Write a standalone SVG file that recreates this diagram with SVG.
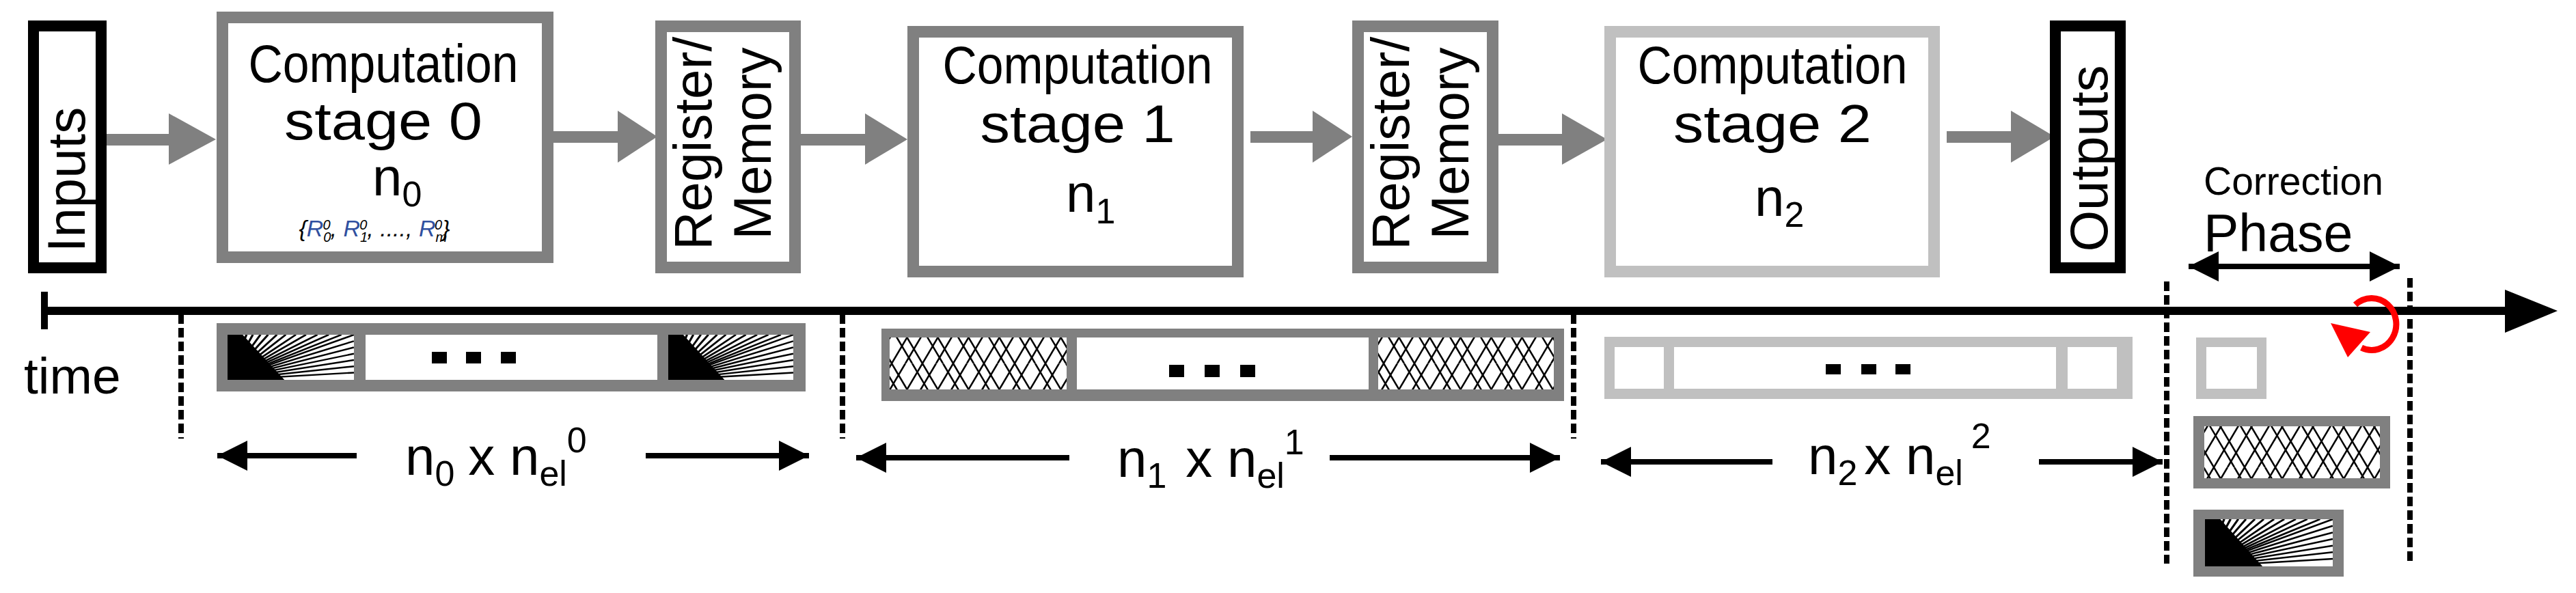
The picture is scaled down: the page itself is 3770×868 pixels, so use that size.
<svg xmlns="http://www.w3.org/2000/svg" width="3770" height="868" viewBox="0 0 3770 868">
<style>
text{font-family:"Liberation Sans",Arial,sans-serif;fill:#000}
.big{font-size:78px}
.rot{font-size:78px}
.sub{font-size:52px}
.gbox{fill:#fff;stroke:#808080;stroke-width:17}
.lbox{fill:#fff;stroke:#c0c0c0;stroke-width:17}
.kbox{fill:#fff;stroke:#000;stroke-width:16}
.garrow{fill:#808080}
.dash{stroke:#000;stroke-width:8;stroke-dasharray:14 6}
.dim{stroke:#000;stroke-width:8;fill:none}
</style>
<defs>
<symbol id="fan" viewBox="0 0 100 50" preserveAspectRatio="none">
<rect width="100" height="50" fill="#fff"/>
<g stroke="#000" stroke-width="1.8">
<line x1="0" y1="50" x2="0" y2="0"/><line x1="0" y1="50" x2="5" y2="0"/><line x1="0" y1="50" x2="10" y2="0"/><line x1="0" y1="50" x2="15" y2="0"/><line x1="0" y1="50" x2="20" y2="0"/><line x1="0" y1="50" x2="26" y2="0"/><line x1="0" y1="50" x2="32" y2="0"/><line x1="0" y1="50" x2="39" y2="0"/><line x1="0" y1="50" x2="46" y2="0"/><line x1="0" y1="50" x2="54" y2="0"/><line x1="0" y1="50" x2="62" y2="0"/><line x1="0" y1="50" x2="71" y2="0"/><line x1="0" y1="50" x2="80" y2="0"/><line x1="0" y1="50" x2="90" y2="0"/><line x1="0" y1="50" x2="100" y2="0"/><line x1="0" y1="50" x2="100" y2="7"/><line x1="0" y1="50" x2="100" y2="14"/><line x1="0" y1="50" x2="100" y2="21"/><line x1="0" y1="50" x2="100" y2="28"/><line x1="0" y1="50" x2="100" y2="35"/><line x1="0" y1="50" x2="100" y2="42"/>
</g>
<polygon points="0,50 0,0 12,0 45,50" fill="#000"/>
</symbol>
<pattern id="hatch" patternUnits="userSpaceOnUse" width="90" height="76">
<rect width="90" height="76" fill="#fff"/>
<g stroke="#000" stroke-width="2.5">
<line x1="0" y1="76" x2="45" y2="0"/><line x1="45" y1="76" x2="90" y2="0"/><line x1="-45" y1="76" x2="0" y2="0"/><line x1="20" y1="76" x2="65" y2="0"/><line x1="65" y1="76" x2="110" y2="0"/><line x1="-25" y1="76" x2="20" y2="0"/>
<line x1="0" y1="0" x2="45" y2="76"/><line x1="45" y1="0" x2="90" y2="76"/><line x1="-45" y1="0" x2="0" y2="76"/><line x1="30" y1="0" x2="75" y2="76"/><line x1="75" y1="0" x2="120" y2="76"/><line x1="-15" y1="0" x2="30" y2="76"/>
</g>
</pattern>
<marker id="ah" viewBox="0 0 10 10" refX="10" refY="5" markerWidth="6.5" markerHeight="5.5" orient="auto-start-reverse" markerUnits="strokeWidth">
<path d="M0,0 L10,5 L0,10 Z" fill="#000"/>
</marker>
</defs>

<g id="connectors">
<rect class="garrow" x="156" y="196" width="92" height="17"/><polygon class="garrow" points="247,166 316,204 247,241"/>
<rect class="garrow" x="810" y="192" width="95" height="17"/><polygon class="garrow" points="904,162 962,200 904,238"/>
<rect class="garrow" x="1172" y="196" width="95" height="17"/><polygon class="garrow" points="1266,166 1328,204 1266,241"/>
<rect class="garrow" x="1830" y="192" width="92" height="17"/><polygon class="garrow" points="1921,162 1979,200 1921,238"/>
<rect class="garrow" x="2193" y="196" width="94" height="17"/><polygon class="garrow" points="2286,166 2352,204 2286,241"/>
<rect class="garrow" x="2849" y="192" width="95" height="17"/><polygon class="garrow" points="2943,162 3007,200 2943,238"/>
</g>

<g id="inputs"><rect class="kbox" x="49" y="38" width="99" height="354"/>
<text class="rot" transform="translate(124,263) rotate(-90)" text-anchor="middle">Inputs</text></g>

<g id="stage0"><rect class="gbox" x="325.5" y="25.5" width="476" height="351"/>
<text class="big" x="561" y="120" text-anchor="middle" textLength="395" lengthAdjust="spacingAndGlyphs">Computation</text>
<text class="big" x="561" y="204" text-anchor="middle" textLength="290" lengthAdjust="spacingAndGlyphs">stage 0</text>
<text class="big" x="545" y="286">n<tspan class="sub" dy="16">0</tspan></text>
<text x="548" y="346" text-anchor="middle" font-size="34" font-style="italic" fill="#333">{<tspan fill="#3050a0">R</tspan><tspan font-size="20" dy="8">0</tspan><tspan font-size="20" dx="-12" dy="-18">0</tspan><tspan dy="10">, </tspan><tspan fill="#3050a0">R</tspan><tspan font-size="20" dy="8">1</tspan><tspan font-size="20" dx="-12" dy="-18">0</tspan><tspan dy="10">, ...., </tspan><tspan fill="#3050a0">R</tspan><tspan font-size="20" dy="8">m</tspan><tspan font-size="20" dx="-18" dy="-18">0</tspan><tspan dy="10">}</tspan></text></g>

<g id="reg0"><rect class="gbox" x="967.5" y="38.5" width="196" height="353"/>
<text class="rot" transform="translate(1041,210) rotate(-90)" text-anchor="middle">Register/</text>
<text class="rot" transform="translate(1128,210) rotate(-90)" text-anchor="middle">Memory</text></g>

<g id="stage1"><rect class="gbox" x="1336.5" y="46.5" width="475" height="351"/>
<text class="big" x="1577" y="122" text-anchor="middle" textLength="395" lengthAdjust="spacingAndGlyphs">Computation</text>
<text class="big" x="1577" y="208" text-anchor="middle" textLength="285" lengthAdjust="spacingAndGlyphs">stage 1</text>
<text class="big" x="1560" y="310">n<tspan class="sub" dy="17">1</tspan></text></g>

<g id="reg1"><rect class="gbox" x="1987.5" y="38.5" width="197" height="353"/>
<text class="rot" transform="translate(2062,210) rotate(-90)" text-anchor="middle">Register/</text>
<text class="rot" transform="translate(2149,210) rotate(-90)" text-anchor="middle">Memory</text></g>

<g id="stage2"><rect class="lbox" x="2356.5" y="46.5" width="474" height="351"/>
<text class="big" x="2594" y="122" text-anchor="middle" textLength="395" lengthAdjust="spacingAndGlyphs">Computation</text>
<text class="big" x="2594" y="208" text-anchor="middle" textLength="290" lengthAdjust="spacingAndGlyphs">stage 2</text>
<text class="big" x="2568" y="316">n<tspan class="sub" dy="16">2</tspan></text></g>

<g id="outputs"><rect class="kbox" x="3008" y="38" width="95" height="354"/>
<text class="rot" transform="translate(3084,232) rotate(-90)" text-anchor="middle">Outputs</text></g>

<g id="timeline">
<line x1="65" y1="455" x2="3670" y2="455" stroke="#000" stroke-width="12"/>
<line x1="65" y1="427" x2="65" y2="482" stroke="#000" stroke-width="10"/>
<polygon points="3666,424 3743,455 3666,487" fill="#000"/>
<text x="35" y="576" font-size="75">time</text>
<line class="dash" x1="265" y1="460" x2="265" y2="642"/>
<line class="dash" x1="1233" y1="460" x2="1233" y2="642"/>
<line class="dash" x1="2303" y1="460" x2="2303" y2="642"/>
<line class="dash" x1="3171" y1="412" x2="3171" y2="825"/>
<line class="dash" x1="3527" y1="407" x2="3527" y2="825"/>
</g>

<g id="bar0">
<rect x="317" y="473" width="862" height="100" fill="#808080"/>
<use href="#fan" x="333" y="490" width="185" height="66"/>
<rect x="535" y="490" width="427" height="66" fill="#fff"/>
<use href="#fan" x="978" y="490" width="183" height="66"/>
<rect x="632" y="515" width="22" height="17"/><rect x="682" y="515" width="22" height="17"/><rect x="733" y="515" width="22" height="17"/>
</g>
<g id="bar1">
<rect x="1290" y="481" width="999" height="106" fill="#808080"/>
<rect x="1302" y="494" width="259" height="76" fill="url(#hatch)"/>
<rect x="1576" y="494" width="427" height="76" fill="#fff"/>
<rect x="2017" y="494" width="257" height="76" fill="url(#hatch)"/>
<rect x="1711" y="534" width="22" height="18"/><rect x="1763" y="534" width="22" height="18"/><rect x="1815" y="534" width="22" height="18"/>
</g>
<g id="bar2">
<rect x="2348" y="493" width="773" height="91" fill="#c0c0c0"/>
<rect x="2363" y="508" width="72" height="61" fill="#fff"/>
<rect x="2450" y="508" width="559" height="61" fill="#fff"/>
<rect x="3026" y="508" width="72" height="61" fill="#fff"/>
<rect x="2672" y="533" width="22" height="15"/><rect x="2724" y="533" width="22" height="15"/><rect x="2774" y="533" width="22" height="15"/>
</g>

<g id="dims">
<line class="dim" x1="522" y1="667" x2="318" y2="667" marker-end="url(#ah)"/>
<line class="dim" x1="945" y1="667" x2="1184" y2="667" marker-end="url(#ah)"/>
<text x="593" y="695" font-size="78">n<tspan class="sub" dy="16">0</tspan><tspan dx="20" dy="-16">x n</tspan><tspan class="sub" dy="16">el</tspan><tspan class="sub" dy="-49">0</tspan></text>
<line class="dim" x1="1565" y1="670" x2="1253" y2="670" marker-end="url(#ah)"/>
<line class="dim" x1="1946" y1="670" x2="2283" y2="670" marker-end="url(#ah)"/>
<text x="1635" y="698" font-size="78">n<tspan class="sub" dy="16">1</tspan><tspan dx="28" dy="-16">x n</tspan><tspan class="sub" dy="16">el</tspan><tspan class="sub" dy="-49">1</tspan></text>
<line class="dim" x1="2594" y1="676" x2="2343" y2="676" marker-end="url(#ah)"/>
<line class="dim" x1="2984" y1="676" x2="3165" y2="676" marker-end="url(#ah)"/>
<text x="2646" y="694" font-size="78">n<tspan class="sub" dy="16">2</tspan><tspan dx="10" dy="-16">x n</tspan><tspan class="sub" dy="16">el</tspan><tspan class="sub" dx="12" dy="-54">2</tspan></text>
</g>

<g id="correction">
<text x="3225" y="285" font-size="57">Correction</text>
<text x="3225" y="368" font-size="77">Phase</text>
<line class="dim" x1="3203" y1="390" x2="3512" y2="390" marker-start="url(#ah)" marker-end="url(#ah)"/>
<path d="M3447,446 A36,38 0 1 1 3456,509" fill="none" stroke="#f00" stroke-width="9"/>
<polygon points="3411,473 3469,486 3436,523" fill="#f00"/>
<rect x="3214" y="494" width="103" height="90" fill="#c0c0c0"/><rect x="3229" y="508" width="74" height="61" fill="#fff"/>
<rect x="3210" y="609" width="288" height="106" fill="#808080"/><rect x="3226" y="624" width="257" height="76" fill="url(#hatch)"/>
<rect x="3210" y="746" width="220" height="98" fill="#808080"/><use href="#fan" x="3227" y="760" width="187" height="69"/>
</g>
</svg>
